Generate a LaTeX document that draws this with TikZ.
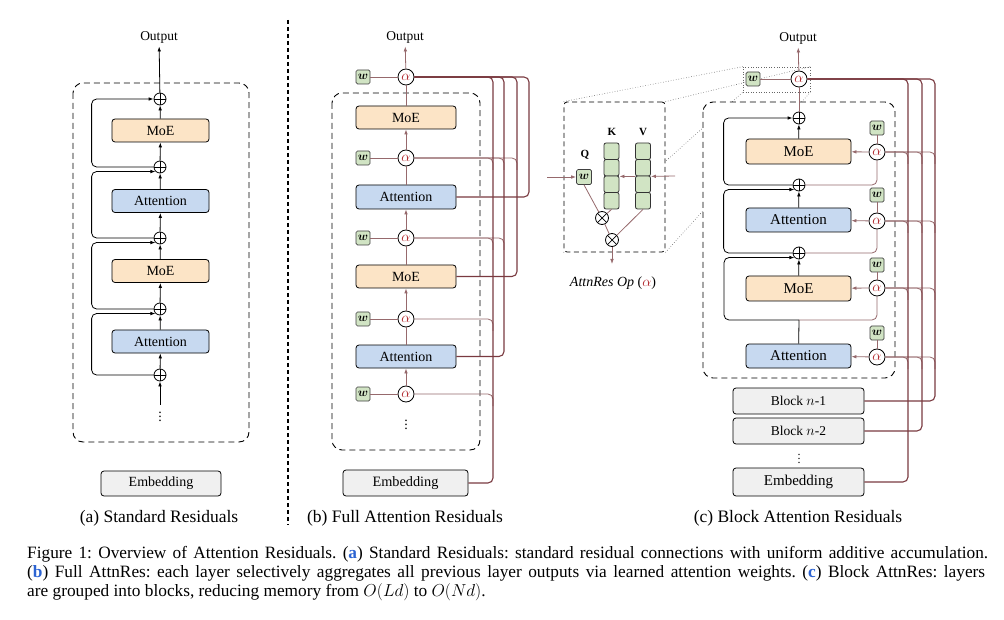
\documentclass[tikz,border=0pt]{standalone}
\usepackage{amsmath}
\usepackage{xcolor}
\usepackage{fontspec}
\setmainfont{Liberation Serif}
\usepackage{tikz}
\usetikzlibrary{arrows.meta,positioning,calc,backgrounds}

\definecolor{moefill}{RGB}{252,228,198}
\definecolor{attfill}{RGB}{199,217,240}
\definecolor{embfill}{RGB}{240,240,240}
\definecolor{wfill}{RGB}{209,228,196}
\definecolor{resbrown}{RGB}{122,58,64}
\definecolor{tapbrown}{RGB}{150,105,108}
\definecolor{alphared}{RGB}{175,35,40}
\definecolor{capblue}{RGB}{45,100,210}

\begin{document}
\begin{tikzpicture}[
    x=1pt, y=-1pt,
    >={Latex[length=5pt,width=3.6pt]},
    lbl/.style={font=\fontsize{13.5}{15}\selectfont},
    layer/.style={draw,rounded corners=3pt,line width=0.8pt,minimum width=97pt,
                  minimum height=23pt,inner sep=0pt,font=\fontsize{14}{16}\selectfont},
    moe/.style={layer,fill=moefill},
    att/.style={layer,fill=attfill},
    emb/.style={layer,fill=embfill},
    plus/.style={circle,draw,fill=white,line width=0.8pt,minimum size=12pt,inner sep=0pt,
                 path picture={\draw[line width=0.7pt]
                   (path picture bounding box.north) -- (path picture bounding box.south)
                   (path picture bounding box.west) -- (path picture bounding box.east);}},
    otimes/.style={circle,draw,fill=white,line width=0.8pt,minimum size=13pt,inner sep=0pt,
                 path picture={\draw[line width=0.7pt]
                   (path picture bounding box.north west) -- (path picture bounding box.south east)
                   (path picture bounding box.south west) -- (path picture bounding box.north east);}},
    alpha/.style={circle,draw,fill=white,line width=0.8pt,minimum size=16pt,inner sep=0pt,
                  text=alphared,font=\fontsize{15}{17}\selectfont},
    wbox/.style={draw=black!75,fill=wfill,rounded corners=1.5pt,line width=0.7pt,
                 minimum width=14pt,minimum height=14pt,inner sep=0pt,font=\fontsize{11.5}{13}\selectfont},
    cell/.style={draw=black!80,fill=wfill,rounded corners=2pt,line width=0.8pt,
                 minimum width=15pt,minimum height=16.5pt,inner sep=0pt},
    dashbox/.style={draw,dash pattern=on 6pt off 4pt,line width=0.9pt,rounded corners=10pt},
    resid/.style={->,line width=0.8pt,rounded corners=5pt},
    flow/.style={draw=tapbrown,line width=0.8pt},
    bus/.style={draw=resbrown,line width=1.1pt,rounded corners=5pt},
    tap/.style={draw=tapbrown,line width=0.8pt,rounded corners=5pt},
    zoomline/.style={draw=black!60,dotted,line width=0.6pt},
    subcap/.style={font=\fontsize{17.5}{20}\selectfont},
    figcap/.style={font=\fontsize{17.3}{19}\selectfont\frenchspacing,anchor=west,inner sep=0pt},
  ]
  \useasboundingbox (0,0) rectangle (1004,620);

  % ---------------- (a) standard residuals ----------------
  \draw[dashbox,fill=white] (73,83) rectangle (249,442);
  \node[lbl] (aout) at (159,37) {Output};
  \node[plus] (ap1) at (160,99)  {};
  \node[moe]  (amoe1) at (160.5,130.5) {MoE};
  \node[plus] (ap2) at (160,167) {};
  \node[att]  (aatt1) at (160.5,201) {Attention};
  \node[plus] (ap3) at (160,238) {};
  \node[moe]  (amoe2) at (160.5,271) {MoE};
  \node[plus] (ap4) at (160,309) {};
  \node[att]  (aatt2) at (160.5,341.5) {Attention};
  \node[plus] (ap5) at (160,375) {};
  \node[font=\fontsize{14}{16}\selectfont,inner sep=1pt] (adots) at (160,414) {$\vdots$};
  \node[emb,minimum width=120pt,minimum height=25pt] (aemb) at (161,483.5) {Embedding};

  \draw[->,line width=0.8pt] (adots) -- (ap5);
  \foreach \s/\t in {ap5/aatt2,aatt2/ap4,ap4/amoe2,amoe2/ap3,ap3/aatt1,aatt1/ap2,ap2/amoe1,amoe1/ap1,ap1/aout}
    \draw[->,line width=0.8pt] (\s) -- (\t);

  \draw[resid] (ap2.west) -- ++(-62,0) |- (ap1.west);
  \draw[resid] (ap3.west) -- ++(-62,0) |- (ap2.225);
  \draw[resid] (ap4.west) -- ++(-62,0) |- (ap3.225);
  \draw[resid] (ap5.west) -- ++(-62,0) |- (ap4.225);

  \node[subcap] (capa) at (159,518) {(a) Standard Residuals};

  % divider
  \draw[dash pattern=on 4pt off 3pt,line width=1.3pt] (288,20) -- (288,525);

  % ---------------- (b) full attention residuals ----------------
  \draw[dashbox,fill=white] (332,93) rectangle (480,450);
  \node[lbl] (bout) at (405,37) {Output};
  \node[alpha] (ba1) at (406,77)  {$\alpha$};
  \node[moe,minimum width=100pt] (bmoe1) at (406,117.5) {MoE};
  \node[alpha] (ba2) at (406,158) {$\alpha$};
  \node[att,minimum width=100pt,minimum height=24pt] (batt1) at (406,197) {Attention};
  \node[alpha] (ba3) at (406,238) {$\alpha$};
  \node[moe,minimum width=100pt] (bmoe2) at (406,276.5) {MoE};
  \node[alpha] (ba4) at (406,319) {$\alpha$};
  \node[att,minimum width=100pt] (batt2) at (406,356.5) {Attention};
  \node[alpha] (ba5) at (406,394) {$\alpha$};
  \node[font=\fontsize{14}{16}\selectfont,inner sep=1pt] (bdots) at (406,422) {$\vdots$};
  \node[emb,minimum width=125pt,minimum height=26pt,font=\fontsize{14.3}{16}\selectfont] (bemb) at (405.5,483) {Embedding};
  \foreach \i/\yy in {1/77,2/158,3/238,4/319,5/394} {
    \node[wbox] (bw\i) at (363,\yy) {$\boldsymbol{w}$};
    \draw[flow] (bw\i) -- (ba\i);
  }

  \draw[flow,->] (ba5) -- (batt2);
  \draw[flow] (batt2) -- (ba4);
  \draw[flow,->] (ba4) -- (bmoe2);
  \draw[flow] (bmoe2) -- (ba3);
  \draw[flow,->] (ba3) -- (batt1);
  \draw[flow] (batt1) -- (ba2);
  \draw[flow,->] (ba2) -- (bmoe1);
  \draw[flow] (bmoe1) -- (ba1);
  \draw[flow,->] (ba1) -- (bout);

  % buses to the right
  \coordinate (bbE)  at (493,77);
  \coordinate (bbA2) at (504,77);
  \coordinate (bbM2) at (517,77);
  \coordinate (bbA1) at (529,77);
  \foreach \r in {bbE,bbA2,bbM2} \draw[tap] (ba2.east) -| ($(\r |- ba2)+(0,12)$);
  \foreach \r in {bbE,bbA2} \draw[tap] (ba3.east) -| ($(\r |- ba3)+(0,12)$);
  \draw[tap] (ba4.east) -| ($(bbE |- ba4)+(0,12)$);
  \draw[tap] (ba5.east) -| ($(bbE |- ba5)+(0,12)$);
  \draw[bus] (batt1.east) -| (bbA1) -- (ba1.east);
  \draw[bus] (bmoe2.east) -| (bbM2) -- (ba1.east);
  \draw[bus] (batt2.east) -| (bbA2) -- (ba1.east);
  \draw[bus] (bemb.east)  -| (bbE)  -- (ba1.east);

  \node[subcap] (capb) at (405,518) {(b) Full Attention Residuals};

  % ---------------- AttnRes Op ----------------
  \node[draw,dash pattern=on 5pt off 3.5pt,fill=white,line width=0.8pt,rounded corners=3pt,
        minimum width=101pt,minimum height=150pt,inner sep=0pt] (opbox) at (614.5,177) {};
  \node[wbox,minimum width=15pt,minimum height=15pt] (opw) at (584,177) {$\boldsymbol{w}$};
  \foreach \i/\yy in {1/151.25,2/167.75,3/184.25,4/200.75} {
    \node[cell] (k\i) at (611.5,\yy) {};
    \node[cell] (v\i) at (643,\yy) {};
  }
  \node[font=\bfseries\fontsize{11}{13}\selectfont] (qlbl) at (585,155) {Q};
  \node[font=\bfseries\fontsize{11}{13}\selectfont] (klbl) at (612,132) {K};
  \node[font=\bfseries\fontsize{11}{13}\selectfont] (vlbl) at (643,132) {V};
  \node[otimes] (ox1) at (602,218) {};
  \node[otimes] (ox2) at (612,240) {};
  \coordinate (opinL) at (547,177);
  \coordinate (opinR) at (675,176);
  \coordinate (opout) at (612,264);
  \draw[flow,->] (opinL) -- (opw);
  \draw[flow,->] (opinR) -- (v2.south east);
  \draw[flow,->] (v2.south west) -- (k2.south east);
  \draw[flow] (opw.south) -- (ox1);
  \draw[flow] (k4.south) -- (ox1);
  \draw[flow] (ox1) -- (ox2);
  \draw[flow] (v4.south) -- (ox2);
  \draw[flow,->] (ox2) -- (opout);
  \node[font=\itshape\fontsize{14}{16}\selectfont] (oplbl) at (613,283)
    {AttnRes Op \textup{(}\textcolor{alphared}{$\alpha$}\textup{)}};

  % ---------------- (c) block attention residuals ----------------
  \draw[dashbox,fill=white] (703,102) rectangle (895,378);
  \node[lbl] (cout) at (798,38) {Output};
  \node[alpha] (ca0) at (799,79) {$\alpha$};
  \node[wbox] (cw0) at (753,79) {$\boldsymbol{w}$};
  \node[draw=black!60,dotted,line width=0.6pt,minimum width=67pt,minimum height=25pt,
        inner sep=0pt] (zoomrect) at (776.5,79.5) {};
  \node[plus] (cp1) at (799,118) {};
  \node[moe,minimum width=105pt,minimum height=25pt,font=\fontsize{15}{17}\selectfont] (cmoe1) at (798.5,151.5) {MoE};
  \node[plus] (cp2) at (799,185) {};
  \node[att,minimum width=105pt,minimum height=24pt,font=\fontsize{15}{17}\selectfont] (catt1) at (798.5,220) {Attention};
  \node[plus] (cp3) at (799,253) {};
  \node[moe,minimum width=105pt,minimum height=25pt,font=\fontsize{15}{17}\selectfont] (cmoe2) at (798.5,288.5) {MoE};
  \coordinate (cj) at (799,320);
  \node[att,minimum width=105pt,minimum height=24pt,font=\fontsize{15}{17}\selectfont] (catt2) at (798.5,356) {Attention};
  \foreach \i/\yy/\wy in {1/152/128,2/221/195,3/288/265,4/357/333} {
    \node[alpha] (ca\i) at (877,\yy) {$\alpha$};
    \node[wbox] (cw\i) at (877,\wy) {$\boldsymbol{w}$};
    \draw[flow] (cw\i) -- (ca\i);
  }
  \node[emb,minimum width=131pt,minimum height=26pt,font=\fontsize{13.5}{16}\selectfont] (cbk1) at (798.5,401) {Block $n$-1};
  \node[emb,minimum width=131pt,minimum height=26pt,font=\fontsize{13.5}{16}\selectfont] (cbk2) at (798.5,431) {Block $n$-2};
  \node[font=\fontsize{12}{14}\selectfont,inner sep=1pt] (cdots) at (799,456) {$\vdots$};
  \node[emb,minimum width=131pt,minimum height=28pt,font=\fontsize{15}{17}\selectfont] (cemb) at (798.5,482) {Embedding};

  % inside the block
  \draw[->,line width=0.8pt] (cmoe1) -- (cp1);
  \draw[->,line width=0.8pt] (catt1) -- (cp2);
  \draw[->,line width=0.8pt] (cmoe2) -- (cp3);
  \draw[line width=0.8pt] (catt2) -- (cj);
  \draw[resid] (cp2.west) -- ++(-69,0) |- (cp1.west);
  \draw[resid] (cp3.west) -- ++(-69,0) |- (cp2.225);
  \draw[resid] (cj) -- ++(-75,0) |- (cp3.225);
  \draw[tap] (cp2.east) -| (ca1.south);
  \draw[tap] (cp3.east) -| (ca2.south);
  \draw[tap] (cj) -| (ca3.south);
  \draw[flow,->] (ca1) -- (cmoe1);
  \draw[flow,->] (ca2) -- (catt1);
  \draw[flow,->] (ca3) -- (cmoe2);
  \draw[flow,->] (ca4) -- (catt2);
  \draw[flow] (cp1) -- (ca0);
  \draw[flow] (cw0) -- (ca0);
  \draw[flow,->] (ca0) -- (cout);

  % block buses
  \coordinate (cbE) at (908,79);
  \coordinate (cb2) at (922,79);
  \coordinate (cb1) at (935,79);
  \foreach \a in {ca1,ca2,ca3,ca4}
    \foreach \r in {cbE,cb2,cb1}
      \draw[tap] (\a.east) -| ($(\r |- \a)+(0,12)$);
  \draw[bus] (cemb.east) -| (cbE) -- (ca0.east);
  \draw[bus] (cbk2.east) -| (cb2) -- (ca0.east);
  \draw[bus] (cbk1.east) -| (cb1) -- (ca0.east);

  \node[subcap] (capc) at (798,518) {(c) Block Attention Residuals};

  % zoom lines, behind the boxes
  \begin{scope}[on background layer]
    \draw[zoomline] (opbox.north west) -- (zoomrect.north west);
    \draw[zoomline] (opbox.north east) -- (zoomrect.north east);
    \draw[zoomline] (opbox.south west) -- (zoomrect.south west);
    \draw[zoomline] (opbox.south east) -- (zoomrect.south east);
  \end{scope}

  % ---------------- figure caption ----------------
  \node[figcap] (fig1) at (27,554) {\makebox[961pt][s]{Figure 1: Overview of Attention Residuals.
    ({\color{capblue}\textbf{a}}) Standard Residuals: standard residual connections with uniform additive accumulation.}};
  \node[figcap] (fig2) at (27,573) {\makebox[958pt][s]{({\color{capblue}\textbf{b}}) Full AttnRes: each layer selectively
    aggregates all previous layer outputs via learned attention weights. ({\color{capblue}\textbf{c}}) Block AttnRes: layers}};
  \node[figcap] (fig3) at (27,592) {are grouped into blocks, reducing memory from $O(Ld)$ to $O(Nd)$.};

\end{tikzpicture}
\end{document}
